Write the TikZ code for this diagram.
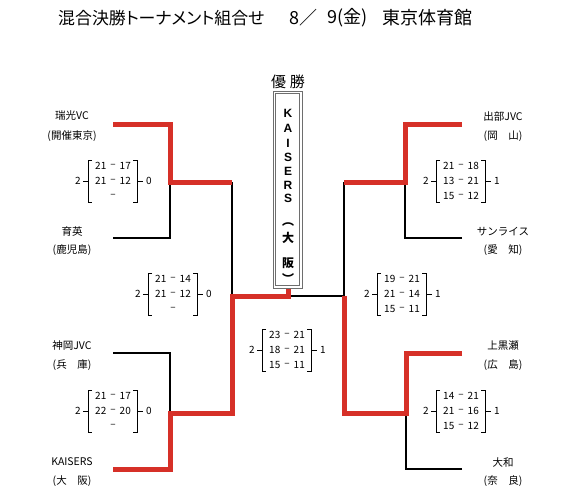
\documentclass[tikz,border=0pt]{standalone}
\usepackage{fontspec}
\setmainfont{Noto Sans CJK JP}
\newfontfamily\jpp[RawFeature=+palt]{Noto Sans CJK JP}
\newfontfamily\lat{Liberation Sans}
\definecolor{winred}{RGB}{214,48,40}
\definecolor{boxgray}{RGB}{110,110,110}
\tikzset{
  team/.style={font=\fontsize{10.5}{12}\selectfont, inner sep=0pt},
  scoretxt/.style={font=\fontsize{10}{12}\selectfont, inner sep=0pt},
  losepath/.style={line width=1.7pt, black},
  winpath/.style={line width=5pt, winred},
  brk/.style={line width=0.9pt},
  vlet/.style={font=\lat\bfseries\fontsize{12}{14}\selectfont, inner sep=0pt},
  vjp/.style={font=\bfseries\fontsize{12}{14}\selectfont, inner sep=0pt},
  titletxt/.style={inner sep=0pt, anchor=west, font=\jpp\fontsize{18}{20}\selectfont},
}
\newcommand\srow[5]{%
  \node[scoretxt, anchor=east] (#1a) at (#2-6.5,#3) {#4};
  \node[scoretxt] (#1d) at (#2,#3) {–};
  \node[scoretxt, anchor=west] (#1b) at (#2+6.5,#3) {#5};
}
\newcommand\bracketblk[5]{%
  \draw[brk] (#2-21,#3-21) -- (#2-25,#3-21) -- (#2-25,#3+21) -- (#2-21,#3+21);
  \draw[brk] (#2-25,#3) -- (#2-30,#3);
  \draw[brk] (#2+20,#3-21) -- (#2+24,#3-21) -- (#2+24,#3+21) -- (#2+20,#3+21);
  \draw[brk] (#2+24,#3) -- (#2+30,#3);
  \node[scoretxt] (#1l) at (#2-35,#3) {#4};
  \node[scoretxt] (#1r) at (#2+36,#3) {#5};
}
\begin{document}
\begin{tikzpicture}[x=1pt,y=-1pt]
\useasboundingbox (0,0) rectangle (569,500);
% title
\node[titletxt, font=\jpp\fontsize{16.9}{20}\selectfont] (title1) at (58,18) {混合決勝トーナメント組合せ};
\node[titletxt] (title2) at (289,18) {8／};
\node[titletxt] (title3) at (327,18) {9(金)};
\node[titletxt] (title4) at (382,18) {東京体育館};
% team labels left
\node[team] (t1) at (72,116) {瑞光VC};
\node[team] (t1p) at (72,136) {(開催東京)};
\node[team] (t2) at (72,232) {育英};
\node[team] (t2p) at (72,250) {(鹿児島)};
\node[team] (t3) at (72,346) {神岡JVC};
\node[team] (t3p) at (72,365) {(兵　庫)};
\node[team] (t4) at (72,462) {KAISERS};
\node[team] (t4p) at (72,481) {(大　阪)};
% team labels right
\node[team] (t5) at (503,117) {出部JVC};
\node[team] (t5p) at (503,136) {(岡　山)};
\node[team] (t6) at (503,232) {サンライス};
\node[team] (t6p) at (503,250) {(愛　知)};
\node[team] (t7) at (503,346) {上黒瀬};
\node[team] (t7p) at (503,365) {(広　島)};
\node[team] (t8) at (503,462) {大和};
\node[team] (t8p) at (503,481) {(奈　良)};
% coordinates
\coordinate (L1) at (113,124); \coordinate (L1e) at (170,124);
\coordinate (L2) at (113,238); \coordinate (L2e) at (170,238);
\coordinate (LA) at (170,182); \coordinate (LA2) at (232,182);
\coordinate (L3) at (113,353); \coordinate (L3e) at (170,353);
\coordinate (L4) at (113,469); \coordinate (L4e) at (170,469);
\coordinate (LB) at (170,413); \coordinate (LB2) at (232,413);
\coordinate (LS) at (232,296);
\coordinate (C) at (288,296); \coordinate (Cb) at (288,288);
\coordinate (CR) at (344,296);
\coordinate (R1) at (462,124); \coordinate (R1e) at (405,124);
\coordinate (R2) at (462,238); \coordinate (R2e) at (405,238);
\coordinate (RA) at (405,182); \coordinate (RA2) at (344,182);
\coordinate (R3) at (462,353); \coordinate (R3e) at (406,353);
\coordinate (R4) at (462,469); \coordinate (R4e) at (406,469);
\coordinate (RB) at (406,413); \coordinate (RB2) at (344,413);
% losing lines
\draw[losepath] (L2) -- (L2e) -- (LA);
\draw[losepath] (LA2) -- (LS);
\draw[losepath] (L3) -- (L3e) -- (LB);
\draw[losepath] (R2) -- (R2e) -- (RA);
\draw[losepath] (RA2) -- (CR);
\draw[losepath] (C) -- (CR);
\draw[losepath] (R4) -- (R4e) -- (RB);
% winning lines
\draw[winpath] (L1) -- (L1e) -- (LA) -- (LA2);
\draw[winpath] (L4) -- (L4e) -- (LB) -- (LB2) -- (LS) -- (C) -- (Cb);
\draw[winpath] (R1) -- (R1e) -- (RA) -- (RA2);
\draw[winpath] (R3) -- (R3e) -- (RB) -- (RB2) -- (CR);
% champion box
\node[inner sep=0pt, font=\fontsize{15}{17}\selectfont] (yusho) at (288,82) {優\hspace{4pt}勝};
\draw[boxgray, line width=0.8pt, fill=white] (273,91) rectangle (302,288);
\draw[boxgray, line width=0.6pt] (275.5,93.5) rectangle (299.5,285.5);
\node[vlet] (vK) at (288,113) {K};
\node[vlet] (vA) at (288,128) {A};
\node[vlet] (vI) at (288,143) {I};
\node[vlet] (vS) at (288,157) {S};
\node[vlet] (vE) at (288,171) {E};
\node[vlet] (vR) at (288,185) {R};
\node[vlet] (vS2) at (288,198) {S};
\node[vjp] (vpo) at (288,225) {︵};
\node[vjp] (vdai) at (288,238) {大};
\node[vjp] (vhan) at (288,263) {阪};
\node[vjp] (vpc) at (288,278) {︶};
% score blocks
\bracketblk{b1}{113}{181}{2}{0}
\srow{b1x}{113}{166}{21}{17}
\srow{b1y}{113}{181}{21}{12}
\node[scoretxt] (b1z) at (113,196) {–};
\bracketblk{b2}{173}{294}{2}{0}
\srow{b2x}{173}{279}{21}{14}
\srow{b2y}{173}{294}{21}{12}
\node[scoretxt] (b2z) at (173,309) {–};
\bracketblk{b3}{113}{411}{2}{0}
\srow{b3x}{113}{396}{21}{17}
\srow{b3y}{113}{411}{22}{20}
\node[scoretxt] (b3z) at (113,426) {–};
\bracketblk{bf}{287}{350}{2}{1}
\srow{bfx}{287}{335}{23}{21}
\srow{bfy}{287}{350}{18}{21}
\srow{bfz}{287}{365}{15}{11}
\bracketblk{r1}{461}{181}{2}{1}
\srow{r1x}{461}{166}{21}{18}
\srow{r1y}{461}{181}{13}{21}
\srow{r1z}{461}{196}{15}{12}
\bracketblk{r2}{402}{294}{2}{1}
\srow{r2x}{402}{279}{19}{21}
\srow{r2y}{402}{294}{21}{14}
\srow{r2z}{402}{309}{15}{11}
\bracketblk{r3}{461}{411}{2}{1}
\srow{r3x}{461}{396}{14}{21}
\srow{r3y}{461}{411}{21}{16}
\srow{r3z}{461}{426}{15}{12}
\end{tikzpicture}
\end{document}
